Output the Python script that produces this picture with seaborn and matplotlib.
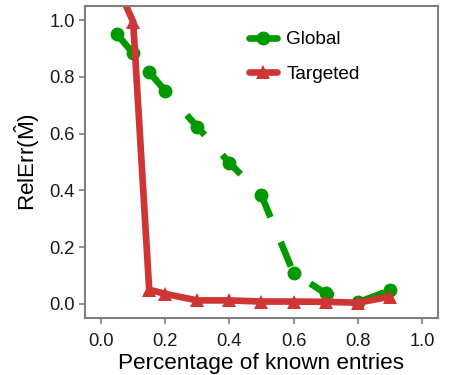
import matplotlib
matplotlib.use('Agg')
import matplotlib.pyplot as plt
from matplotlib.lines import Line2D
import seaborn as sns
import pandas as pd

# Data
pct_known = [0.05, 0.1, 0.15, 0.2, 0.3, 0.4, 0.5, 0.6, 0.7, 0.8, 0.9]
global_err = [0.95, 0.883, 0.817, 0.751, 0.624, 0.497, 0.382, 0.109, 0.037, 0.005, 0.047]
targeted_err = [1.12, 0.995, 0.05, 0.035, 0.012, 0.012, 0.008, 0.008, 0.007, 0.004, 0.025]
methods = ['Global', 'Targeted']

df = pd.DataFrame({
    'pct': pct_known * 2,
    'err': global_err + targeted_err,
    'method': ['Global'] * len(pct_known) + ['Targeted'] * len(pct_known),
})

sns.set_style('white')
plt.rcParams['font.family'] = ['Liberation Sans', 'DejaVu Sans']
plt.rcParams['mathtext.fontset'] = 'custom'
plt.rcParams['mathtext.rm'] = 'Liberation Sans'
plt.rcParams['mathtext.it'] = 'Liberation Sans:italic'

palette = {'Global': '#009a00', 'Targeted': '#cf3535'}
markers = {'Global': 'o', 'Targeted': '^'}
dashes = {'Global': (4, 4), 'Targeted': ''}

fig = plt.figure(figsize=(4.5, 3.75), dpi=100)
ax = fig.add_axes([0.189, 0.152, 0.784, 0.832])

sns.lineplot(data=df, x='pct', y='err', hue='method', style='method',
             hue_order=methods, style_order=methods, palette=palette,
             markers=markers, dashes=dashes, linewidth=4.8, markersize=10,
             markeredgewidth=0, legend=False, ax=ax)

ax.set_xlim(-0.05, 1.05)
ax.set_ylim(-0.05, 1.05)
ax.set_xticks([0.0, 0.2, 0.4, 0.6, 0.8, 1.0])
ax.set_yticks([0.0, 0.2, 0.4, 0.6, 0.8, 1.0])
ax.set_xticklabels(['0.0', '0.2', '0.4', '0.6', '0.8', '1.0'])
ax.set_yticklabels(['0.0', '0.2', '0.4', '0.6', '0.8', '1.0'])
ax.tick_params(axis='both', bottom=True, left=True, length=4.3, width=1.2,
               color='#7f7f7f', labelsize=13.2, labelcolor='#1a1a1a', pad=3)
ax.tick_params(axis='x', pad=6.5)
for s in ax.spines.values():
    s.set_color('#7f7f7f')
    s.set_linewidth(1.5)

ax.set_xlabel('Percentage of known entries', fontsize=16.2, labelpad=2,
              color='black')
ax.set_ylabel(r'RelErr$(\hat{\mathrm{M}})$', fontsize=16.2, labelpad=5,
              color='black')

handles = [Line2D([], [], color=palette[m], marker=markers[m], linewidth=4.8,
                  markersize=10, markeredgewidth=0) for m in methods]
ax.legend(handles, methods, loc='upper left', bbox_to_anchor=(0.465, 0.92),
          frameon=False, fontsize=13.7, numpoints=1, handlelength=1.45,
          handletextpad=0.5, labelspacing=0.9, borderpad=0, borderaxespad=0,
          labelcolor='black')

fig.savefig('out.png', dpi=100)
